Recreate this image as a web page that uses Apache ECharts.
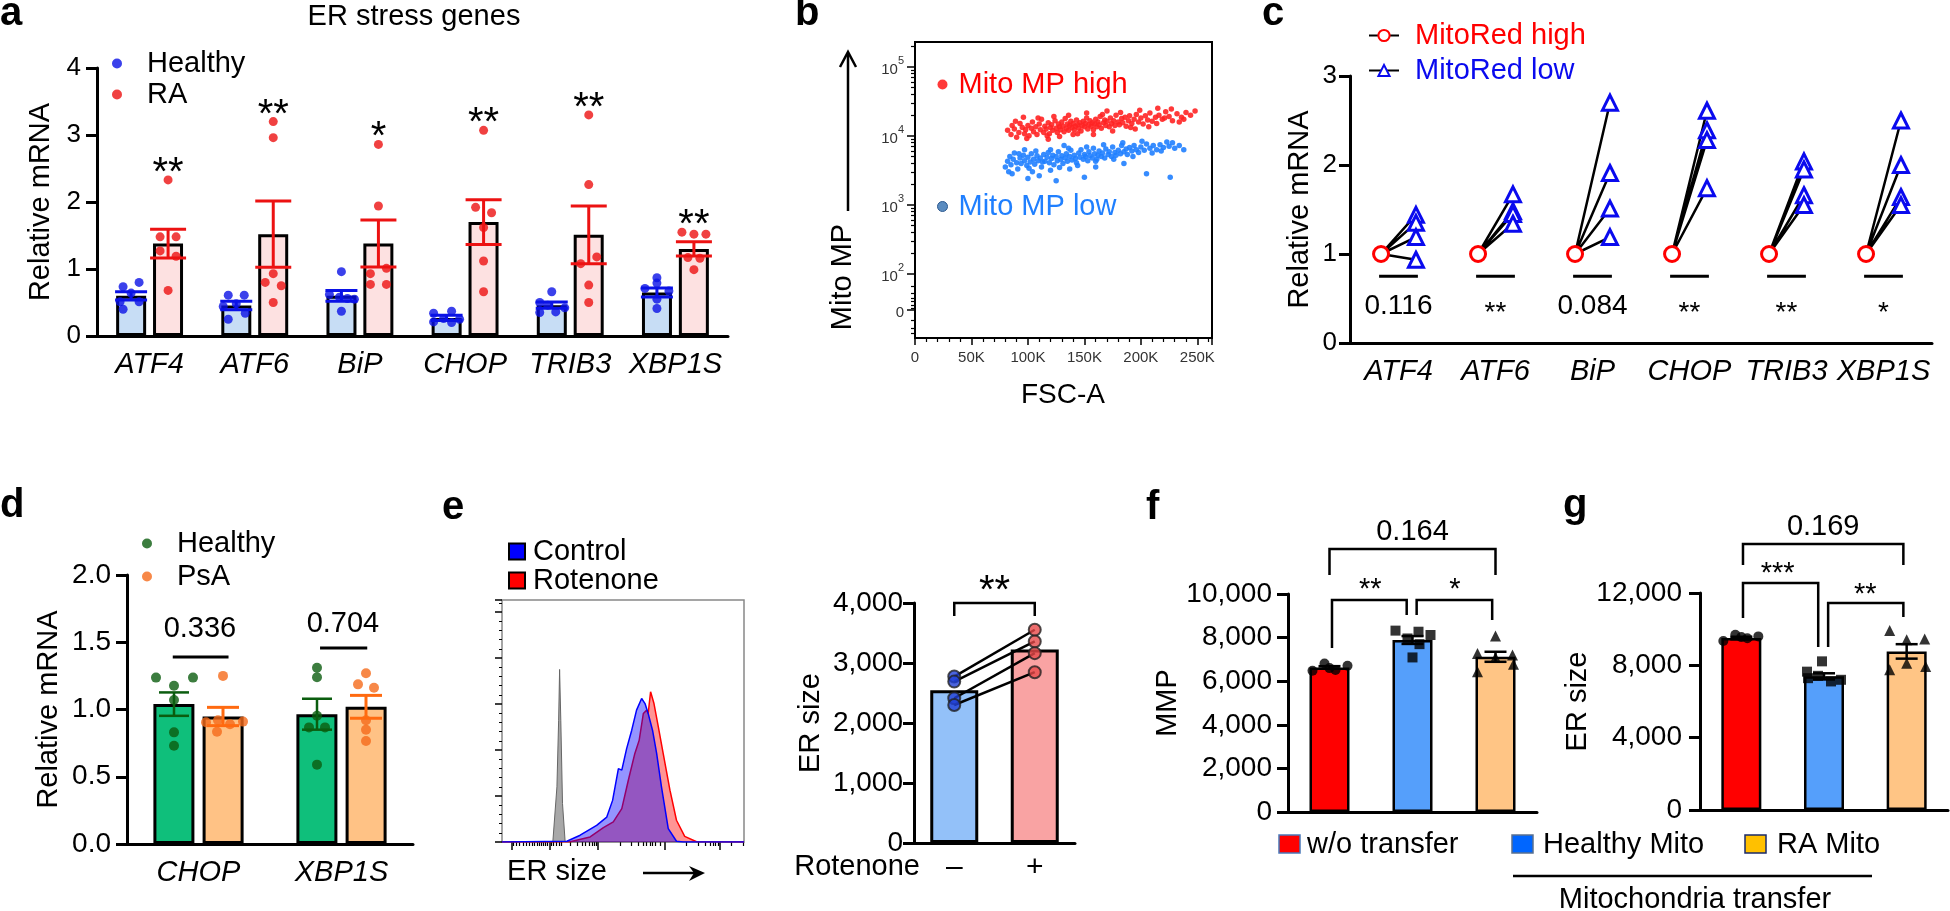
<!DOCTYPE html>
<html><head><meta charset="utf-8">
<script src="https://cdn.jsdelivr.net/npm/echarts@6/dist/echarts.min.js"></script>
<style>html,body{margin:0;padding:0;background:#fff}#main{width:1950px;height:911px}</style>
</head><body><div id="main"></div>
<script>
const FONT = "'Liberation Sans', Arial, Helvetica, sans-serif";

// ---------- Panel a : ER stress genes, Healthy vs RA ----------
const aGenes = ['ATF4','ATF6','BiP','CHOP','TRIB3','XBP1S'];
const aHealthyMean = [0.60,0.455,0.60,0.27,0.46,0.65];
const aHealthySem  = [0.062,0.065,0.08,0.04,0.047,0.067];
const aRAMean = [1.38,1.52,1.38,1.70,1.51,1.30];
const aRASem  = [0.215,0.495,0.35,0.335,0.43,0.105];
const aHealthyPts = [
 [0.735,0.80,0.64,0.51,0.51,0.40],
 [0.61,0.61,0.48,0.44,0.34,0.25],
 [0.96,0.62,0.58,0.56,0.55,0.37],
 [0.34,0.37,0.26,0.21,0.20,0.25],
 [0.66,0.50,0.46,0.35,0.36,0.42],
 [0.87,0.79,0.71,0.67,0.55,0.41]];
const aHealthyJit = [[-8,8,0,-11,8,-8],[-8,8,0,-13,9,-8],[0,-12,-2,6,13,0],[-13,5,-3,-13,5,13],[0,-12,-4,-12,4,13],[0,0,-12,12,0,0]];
const aRAPts = [
 [2.33,1.48,1.48,1.27,1.19,0.68],
 [3.20,2.96,0.93,0.80,0.75,0.50],
 [2.86,1.94,0.93,1.01,0.77,0.77],
 [3.07,1.92,1.84,1.62,1.12,0.66],
 [3.30,2.26,1.18,1.08,0.76,0.50],
 [1.55,1.52,1.52,1.17,1.16,0.99]];
const aRAJit = [[0,-8,8,-8,8,0],[0,0,0,-8,8,0],[0,0,-8,8,-8,8],[0,-8,8,0,0,0],[0,0,8,-8,0,0],[-12,0,12,-6,6,0]];
const aSig = ['**','**','*','**','**','**'];

// ---------- Panel b : flow cytometry (FSC-A in K, Mito MP as log10) ----------
const bHigh = [[82,4.08],[85,4.02],[86,4.15],[88,4.10],[90,3.98],[92,4.05],[93,4.18],[95,4.12],[97,4.03],[98,4.09],
[100,4.15],[101,4.00],[103,4.11],[104,4.20],[105,4.06],[107,4.13],[108,4.02],[110,4.17],[111,4.09],[112,4.24],
[114,4.05],[115,4.14],[116,4.10],[118,4.19],[119,4.03],[120,4.12],[121,4.16],[122,4.08],[124,4.22],[125,4.11],
[126,4.05],[127,4.17],[128,4.13],[129,4.09],[130,4.20],[131,4.14],[132,4.06],[133,4.25],[134,4.11],[135,4.17],
[136,4.08],[137,4.15],[138,4.21],[139,4.12],[140,4.18],[141,4.09],[142,4.14],[143,4.23],[144,4.16],[145,4.11],
[146,4.19],[147,4.07],[148,4.15],[149,4.21],[150,4.13],[151,4.18],[152,4.26],[153,4.10],[154,4.16],[155,4.22],
[156,4.14],[157,4.19],[158,4.09],[159,4.17],[160,4.24],[161,4.13],[162,4.20],[163,4.16],[164,4.28],[165,4.11],
[167,4.19],[168,4.23],[169,4.15],[170,4.21],[172,4.13],[173,4.26],[174,4.18],[176,4.22],[177,4.15],[178,4.30],
[180,4.20],[181,4.16],[183,4.25],[184,4.19],[186,4.27],[187,4.14],[189,4.22],[190,4.29],[192,4.18],[194,4.24],
[196,4.31],[198,4.20],[200,4.26],[202,4.17],[204,4.29],[206,4.23],[208,4.33],[210,4.21],[213,4.27],[216,4.30],
[219,4.24],[222,4.35],[225,4.28],[228,4.22],[232,4.32],[236,4.27],[240,4.34],[96,4.27],[118,3.95],[140,4.02],
[170,4.36],[195,4.10],[215,4.40],[234,4.20],[89,4.21],[99,3.96],[109,4.26],[117,4.00],[123,4.28],[128,3.99],
[136,4.30],[144,4.03],[152,4.33],[158,4.02],[166,4.31],[175,4.07],[182,4.34],[191,4.12],[199,4.37],[207,4.13],
[214,4.18],[221,4.26],[227,4.39],[238,4.24],[244,4.30],[248,4.36]];
const bLow = [[80,3.55],[82,3.63],[84,3.70],[85,3.58],[87,3.66],[88,3.75],[90,3.61],[91,3.52],[93,3.68],[94,3.60],
[96,3.72],[97,3.64],[99,3.57],[100,3.69],[102,3.62],[103,3.74],[105,3.66],[106,3.59],[108,3.71],[109,3.64],
[111,3.68],[112,3.55],[114,3.73],[115,3.63],[117,3.69],[118,3.76],[119,3.61],[121,3.67],[122,3.72],[123,3.58],
[125,3.70],[126,3.64],[127,3.77],[129,3.66],[130,3.71],[131,3.60],[133,3.68],[134,3.74],[135,3.63],[137,3.70],
[138,3.79],[139,3.65],[141,3.72],[142,3.67],[143,3.61],[145,3.75],[146,3.69],[147,3.80],[149,3.66],[150,3.73],
[151,3.70],[153,3.64],[154,3.77],[155,3.71],[157,3.68],[158,3.82],[159,3.74],[161,3.66],[162,3.72],[163,3.78],
[165,3.70],[166,3.75],[168,3.68],[169,3.81],[171,3.73],[172,3.77],[174,3.70],[175,3.84],[177,3.76],[178,3.72],
[180,3.79],[182,3.74],[183,3.86],[185,3.77],[187,3.81],[188,3.73],[190,3.83],[192,3.78],[194,3.86],[196,3.80],
[198,3.76],[200,3.84],[203,3.79],[205,3.88],[208,3.82],[211,3.86],[214,3.80],[217,3.87],[220,3.83],[225,3.85],
[230,3.82],[228,3.90],[86,3.45],[104,3.48],[120,3.50],[137,3.52],[160,3.55],[110,3.42],[97,3.80],[132,3.86],
[185,3.60],[205,3.45],[226,3.40],[150,3.40],[125,3.35],[100,3.38],[83,3.48],[92,3.74],[101,3.53],[107,3.78],
[113,3.62],[120,3.80],[128,3.54],[136,3.82],[144,3.57],[152,3.84],[160,3.63],[167,3.87],[176,3.66],[184,3.90],
[193,3.70],[201,3.92],[210,3.75],[218,3.78],[223,3.91],[234,3.86],[238,3.80]];
const bYLabelVals = [1.48,2,3,4,5];

// ---------- Panel c : paired MitoRed high vs low ----------
const cGenes = ['ATF4','ATF6','BiP','CHOP','TRIB3','XBP1S'];
const cHigh = [1,1,1,1,1,1];
const cLow = [[1.44,1.35,1.19,0.935],[1.67,1.48,1.45,1.34],[2.70,1.91,1.51,1.19],[2.61,2.39,2.28,1.74],[2.04,1.95,1.66,1.55],[2.50,2.00,1.64,1.55]];
const cP = ['0.116','**','0.084','**','**','*'];

// ---------- Panel d : Healthy vs PsA ----------
const dGenes = ['CHOP','XBP1S'];
const dHealthyMean = [1.04,0.965];
const dHealthySem = [0.087,0.115];
const dPsAMean = [0.948,1.02];
const dPsASem = [0.068,0.085];
const dHealthyPts = [[1.237,1.237,1.177,1.07,0.83,0.73],[1.31,1.24,0.954,0.867,0.867,0.59]];
const dHealthyJit = [[-18,19,0,0,0,0],[0,0,0,-8,8,0]];
const dPsAPts = [[1.25,0.905,0.92,0.89,0.91,0.835],[1.27,1.187,1.162,0.92,0.85,0.766]];
const dPsAJit = [[0,-17,-5,7,20,-6],[0,-8,8,0,0,0]];
const dP = ['0.336','0.704'];

// ---------- Panel e : histogram (0-100 frame units) + paired bar ----------
const eGrey = [[0,0],[21,0],[22.7,22.8],[23.4,50.3],[23.8,71.3],[24.3,50.3],[25,15.9],[26.1,0],[100,0]];
const eControl = [[0,0],[26.8,0.3],[32.3,2.8],[39.1,6.9],[43.3,10.3],[45.7,17.2],[48.1,30.3],[49.5,29.7],[51.5,38.6],[53.6,46.2],[55.6,54.5],[57.7,59.3],[59.1,57.2],[60.4,53.1],[62.2,46.2],[63.9,36.6],[65.9,22.8],[68.7,5.5],[72.1,0.3],[74.9,0],[100,0]];
const eRotenone = [[0,0],[28.2,0.1],[36.4,2.1],[41.9,5.9],[46,8.3],[49.5,13.8],[52.2,25.5],[54.9,36.6],[56.7,42.1],[58.4,53.1],[59.8,54.5],[60.4,53.1],[61.4,62.1],[62.8,57.2],[64.6,47.6],[66.6,36.6],[69.4,21.4],[72.1,9.0],[75.5,2.3],[80.4,0.1],[100,0]];
const eXMajor = [4.1,19.6,39.6,67.3,90.0];
const eXMinor = [4.5,5.9,7.3,8.7,10.0,11.3,12.4,13.5,14.4,15.4,16.3,17.2,18.0,18.8,20.2,21.3,22.4,23.5,24.3,28.2,30.9,33.0,34.6,36.0,37.1,38.0,38.9,48.8,53.6,56.3,58.4,59.8,61.1,62.2,63.2,65.2,76.2,81.0,83.8,85.9,87.2,88.3,89.3,94.8,99.6];
const eBarCats = ['–','+'];
const eBarMean = [2545,3225];
const eCtrlPts = [2774,2690,2412,2300];
const eRotPts = [3554,3359,3164,2847];

// ---------- Panel f : MMP ----------
const fgGroups = ['w/o transfer','Healthy Mito','RA Mito'];
const fMean = [6630,7890,7120];
const fSem = [60,180,230];
const fPts = [[6480,6810,6600,6510,6710],[8320,7960,8270,8120,7700,7090],[8070,7270,7200,6430,6780,7090]];
const fJit = [[-17,-5,0,6,18],[-17,-5,6,18,7,0],[0,-18,17,-18,18,0]];

// ---------- Panel g : ER size ----------
const gMean = [9510,7390,8770];
const gSem = [70,170,400];
const gPts = [[9350,9690,9560,9500,9600],[8220,7650,7420,7290,7110,7200],[9930,9415,9450,8120,7750,7940]];
const gJit = [[-18,-6,0,6,17],[-2,-17,-6,-16,7,17],[-17,0,18,0,-17,19]];

// ================= helpers =================
function errRender(color, width, cap){
  return function(p, api){
    const x = api.value(0), m = api.value(1), s = api.value(2);
    const t = api.coord([x, m + s]), b = api.coord([x, m - s]);
    const st = {stroke:color, lineWidth:width};
    return {type:'group', children:[
      {type:'line', shape:{x1:t[0],y1:t[1],x2:b[0],y2:b[1]}, style:st},
      {type:'line', shape:{x1:t[0]-cap,y1:t[1],x2:t[0]+cap,y2:t[1]}, style:st},
      {type:'line', shape:{x1:b[0]-cap,y1:b[1],x2:b[0]+cap,y2:b[1]}, style:st}]};
  };
}
function segRender(color, width){
  return function(p, api){
    const a = api.coord([api.value(0), api.value(1)]), b = api.coord([api.value(2), api.value(3)]);
    return {type:'line', shape:{x1:a[0],y1:a[1],x2:b[0],y2:b[1]}, style:{stroke:color, lineWidth:width}};
  };
}
function bracketRender(width){
  return function(p, api){
    const x1 = api.value(0), x2 = api.value(1), y = api.value(2), y1 = api.value(3), y2 = api.value(4);
    const pts = [api.coord([x1,y1]), api.coord([x1,y]), api.coord([x2,y]), api.coord([x2,y2])];
    return {type:'polyline', shape:{points:pts}, style:{stroke:'#000', lineWidth:width, fill:null}};
  };
}
function textRender(texts, size){
  return function(p, api){
    const c = api.coord([api.value(0), api.value(1)]);
    const t = texts[p.dataIndex];
    const dy = t.indexOf('*') >= 0 ? size * 0.25 : 0;
    return {type:'text', x:c[0], y:c[1] + dy, style:{text:t, fontSize:size, fontFamily:FONT, fill:'#000', align:'center', verticalAlign:'middle'}};
  };
}
function custom(xi, yi, data, renderItem, z){
  return {type:'custom', xAxisIndex:xi, yAxisIndex:yi, data, renderItem, z:z||5, silent:true};
}
function catX(grid, data, extra){
  return Object.assign({gridIndex:grid, type:'category', data,
    axisLine:{onZero:false, lineStyle:{color:'#000', width:3}},
    axisTick:{alignWithLabel:true, length:11, lineStyle:{color:'#000', width:3}},
    axisLabel:{interval:0, color:'#000', fontSize:29, fontStyle:'italic', fontFamily:FONT, margin:14},
    splitLine:{show:false}}, extra || {});
}
function hidX(grid, n){ return {gridIndex:grid, type:'value', min:-0.5, max:n-0.5, show:false}; }
function valY(grid, min, max, interval, fmt, size, margin, name, nameGap){
  return {gridIndex:grid, type:'value', min, max, interval, position:'left',
    axisLine:{show:true, onZero:false, lineStyle:{color:'#000', width:3}},
    axisTick:{show:true, length:11, lineStyle:{color:'#000', width:3}},
    axisLabel:{color:'#000', fontSize:size, fontFamily:FONT, margin, formatter:fmt},
    splitLine:{show:false},
    name, nameLocation:'middle', nameGap, nameTextStyle:{fontSize:29, color:'#000', fontFamily:FONT}};
}
const comma = v => v.toLocaleString('en-US');

// ================= layout =================
const grids = [
  {left:97, top:68, width:631, height:268},          // 0 a
  {left:915, top:42, width:297, height:296, show:true, borderColor:'#000', borderWidth:2, backgroundColor:'transparent'}, // 1 b
  {left:1350, top:76, width:582, height:267},        // 2 c
  {left:127, top:575, width:286, height:269},        // 3 d
  {left:502, top:600, width:242, height:242, show:true, borderColor:'#888', borderWidth:1.5, backgroundColor:'transparent'}, // 4 e hist
  {left:914, top:603, width:161, height:240},        // 5 e bar
  {left:1288, top:594, width:249, height:218},       // 6 f
  {left:1700, top:593, width:248, height:217}        // 7 g
];
const aCatPx = 631/6, dCatPx = 286/2, fCatPx = 249/3, gCatPx = 248/3;
const aOff = 18.5/aCatPx, dOff = 24.5/dCatPx, cOff = 0.18;

const bMinor = [];
[2,3,4].forEach(k => [2,3,4,5,6,7,8,9].forEach(m => bMinor.push(k + Math.log10(m))));
bMinor.push(5 + Math.log10(2));
[1.14,1.21,1.33,1.50,1.54,1.60,1.65,1.72,1.816].forEach(v => bMinor.push(v));

const xAxis = [
  catX(0, aGenes),                                  // 0
  hidX(0, 6),                                       // 1
  {gridIndex:1, type:'value', min:0, max:263, interval:50,   // 2
    axisLine:{onZero:false, lineStyle:{color:'#000', width:2}},
    axisTick:{length:7, lineStyle:{color:'#000', width:1.5}},
    minorTick:{show:true, splitNumber:5, length:4, lineStyle:{color:'#000', width:1.2}},
    axisLabel:{fontSize:15, color:'#333', margin:12, showMaxLabel:false, formatter: v => v === 0 ? '0' : (v % 50 === 0 ? v + 'K' : '')},
    splitLine:{show:false}, minorSplitLine:{show:false}},
  catX(2, cGenes, {axisTick:{alignWithLabel:true, length:9, lineStyle:{color:'#000', width:3}}}), // 3
  hidX(2, 6),                                       // 4
  catX(3, dGenes),                                  // 5
  hidX(3, 2),                                       // 6
  {gridIndex:4, type:'value', min:0, max:100, position:'bottom', axisLine:{show:false, onZero:false},
    axisTick:{show:true, customValues:eXMajor, length:8, lineStyle:{color:'#000', width:1.5}},
    axisLabel:{show:false}, splitLine:{show:false}},  // 7
  {gridIndex:4, type:'value', min:0, max:100, position:'bottom', axisLine:{show:false, onZero:false},
    axisTick:{show:true, customValues:eXMinor, length:4, lineStyle:{color:'#000', width:1.2}},
    axisLabel:{show:false}, splitLine:{show:false}},  // 8
  catX(5, eBarCats, {axisTick:{alignWithLabel:true, length:10, lineStyle:{color:'#000', width:3}},
    axisLabel:{interval:0, color:'#000', fontSize:30, fontFamily:FONT, margin:10}}), // 9
  hidX(5, 2),                                       // 10
  catX(6, fgGroups, {axisLabel:{show:false}}),      // 11
  hidX(6, 3),                                       // 12
  catX(7, fgGroups, {axisLabel:{show:false}}),      // 13
  hidX(7, 3)                                        // 14
];

const yAxis = [
  valY(0, 0, 4, 1, null, 26, 16, 'Relative mRNA', 42),                       // 0
  {gridIndex:1, type:'value', min:1.07, max:5.36, position:'left',             // 1
    axisLine:{show:true, onZero:false, lineStyle:{color:'#000', width:2}},
    axisTick:{show:true, customValues:bYLabelVals, length:8, lineStyle:{color:'#000', width:1.5}},
    axisLabel:{show:true, customValues:bYLabelVals, margin:11, color:'#333',
      formatter: v => Math.abs(v - 1.48) < 0.01 ? '{n|0}' : '{n|10}{s|' + Math.round(v) + '}',
      rich:{n:{fontSize:15, color:'#333', fontFamily:FONT, lineHeight:22, verticalAlign:'bottom'},
            s:{fontSize:11, color:'#333', fontFamily:FONT, lineHeight:22, verticalAlign:'top'}}},
    splitLine:{show:false}},
  {gridIndex:1, type:'value', min:1.07, max:5.36, position:'left', axisLine:{show:false, onZero:false}, // 2
    axisTick:{show:true, customValues:bMinor, length:4, lineStyle:{color:'#000', width:1.2}},
    axisLabel:{show:false}, splitLine:{show:false}},
  valY(2, 0, 3, 1, null, 26, 13, 'Relative mRNA', 36),                       // 3
  valY(3, 0, 2, 0.5, v => v.toFixed(1), 28, 16, 'Relative mRNA', 64),        // 4
  {gridIndex:4, type:'value', min:0, max:100, interval:19, position:'left', axisLine:{show:false, onZero:false}, // 5
    axisTick:{show:true, length:7, lineStyle:{color:'#000', width:1.5}},
    minorTick:{show:true, splitNumber:5, length:3, lineStyle:{color:'#000', width:1}},
    axisLabel:{show:false}, splitLine:{show:false}, minorSplitLine:{show:false}},
  valY(5, 0, 4000, 1000, comma, 28, 11, 'ER size', 89),                      // 6
  valY(6, 0, 10000, 2000, comma, 28, 16, 'MMP', 106),                        // 7
  valY(7, 0, 12000, 4000, comma, 28, 18, 'ER size', 106)                     // 8
];

// ================= series =================
const series = [];
// ---- a
series.push({type:'bar', name:'Healthy bar', xAxisIndex:0, yAxisIndex:0, data:aHealthyMean, barWidth:30, barGap:'23%',
  itemStyle:{color:'#c7ddf5', borderColor:'#000', borderWidth:3}, z:2, silent:true});
series.push({type:'bar', name:'RA bar', xAxisIndex:0, yAxisIndex:0, data:aRAMean, barWidth:30, barGap:'23%',
  itemStyle:{color:'#fde1e1', borderColor:'#000', borderWidth:3}, z:2, silent:true});
series.push({type:'scatter', name:'Healthy', xAxisIndex:1, yAxisIndex:0, symbolSize:9, itemStyle:{color:'#0a12e6'}, z:3,
  data: aHealthyPts.flatMap((arr,i) => arr.map((v,k) => [i - aOff + aHealthyJit[i][k]/aCatPx, v]))});
series.push({type:'scatter', name:'RA', xAxisIndex:1, yAxisIndex:0, symbolSize:9, itemStyle:{color:'#ec1212'}, z:3,
  data: aRAPts.flatMap((arr,i) => arr.map((v,k) => [i + aOff + aRAJit[i][k]/aCatPx, v]))});
series.push(custom(1, 0, aHealthyMean.map((m,i) => [i - aOff, m, aHealthySem[i]]), errRender('#0a12e6', 3, 16)));
series.push(custom(1, 0, aRAMean.map((m,i) => [i + aOff, m, aRASem[i]]), errRender('#ec1212', 3, 18)));
series.push(custom(1, 0, aRAPts.map((arr,i) => [i + aOff, Math.max(...arr) + 0.24]), textRender(aSig, 40)));

// ---- b
series.push({type:'scatter', name:'Mito MP high', xAxisIndex:2, yAxisIndex:1, symbolSize:5.5, itemStyle:{color:'#ff2424', opacity:0.9}, data:bHigh, z:3});
series.push({type:'scatter', name:'Mito MP low', xAxisIndex:2, yAxisIndex:1, symbolSize:5.5, itemStyle:{color:'#2080ff', opacity:0.9}, data:bLow, z:3});

// ---- c
const cLowData = [];
cLow.forEach((arr,i) => arr.forEach(v => {
  cLowData.push({value:[i - cOff, cHigh[i]], symbol:'none'});
  cLowData.push([i + cOff, v]);
  cLowData.push(['-','-']);
}));
const cHighData = [];
cHigh.forEach((v,i) => { cHighData.push([i - cOff, v]); cHighData.push(['-','-']); });
series.push({type:'line', name:'MitoRed low', xAxisIndex:4, yAxisIndex:3, data:cLowData, connectNulls:false,
  symbol:'triangle', symbolSize:15, showAllSymbol:true, lineStyle:{color:'#000', width:2.5},
  itemStyle:{color:'#fff', borderColor:'#0a0aee', borderWidth:3}, z:3});
series.push({type:'line', name:'MitoRed high', xAxisIndex:4, yAxisIndex:3, data:cHighData, connectNulls:false,
  symbol:'circle', symbolSize:15, showAllSymbol:true, lineStyle:{color:'#000', width:2.5},
  itemStyle:{color:'#fff', borderColor:'#ff0000', borderWidth:3}, z:4});
series.push(custom(4, 3, cGenes.map((g,i) => [i - 0.2, 0.75, i + 0.2, 0.75]), segRender('#000', 3)));
series.push(custom(4, 3, cGenes.map((g,i) => [i, 0.41]), textRender(cP, 28)));

// ---- d
series.push({type:'bar', name:'d-Healthy bar', xAxisIndex:5, yAxisIndex:4, data:dHealthyMean, barWidth:41, barGap:'20%',
  itemStyle:{color:'#0fbf7b', borderColor:'#000', borderWidth:3}, z:2, silent:true});
series.push({type:'bar', name:'d-PsA bar', xAxisIndex:5, yAxisIndex:4, data:dPsAMean, barWidth:41, barGap:'20%',
  itemStyle:{color:'#ffc285', borderColor:'#000', borderWidth:3}, z:2, silent:true});
series.push({type:'scatter', name:'d-Healthy', xAxisIndex:6, yAxisIndex:4, symbolSize:10, itemStyle:{color:'#0b5d0f'}, z:3,
  data: dHealthyPts.flatMap((arr,i) => arr.map((v,k) => [i - dOff + dHealthyJit[i][k]/dCatPx, v]))});
series.push({type:'scatter', name:'d-PsA', xAxisIndex:6, yAxisIndex:4, symbolSize:10, itemStyle:{color:'#f56a1a'}, z:3,
  data: dPsAPts.flatMap((arr,i) => arr.map((v,k) => [i + dOff + dPsAJit[i][k]/dCatPx, v]))});
series.push(custom(6, 4, dHealthyMean.map((m,i) => [i - dOff, m, dHealthySem[i]]), errRender('#0b5d0f', 2.5, 15)));
series.push(custom(6, 4, dPsAMean.map((m,i) => [i + dOff, m, dPsASem[i]]), errRender('#ff6a10', 3, 16)));
series.push(custom(6, 4, [[-0.18, 1.39, 0.21, 1.39],[0.85, 1.457, 1.18, 1.457]], segRender('#000', 3)));
series.push(custom(6, 4, [[0.01, 1.60],[1.01, 1.636]], textRender(dP, 29)));

// ---- e histogram
series.push({type:'line', name:'Unstained', xAxisIndex:7, yAxisIndex:5, data:eGrey, symbol:'none',
  lineStyle:{color:'#666', width:1}, areaStyle:{color:'#a8a8a8', opacity:1}, z:2, silent:true});
series.push({type:'line', name:'Rotenone', xAxisIndex:7, yAxisIndex:5, data:eRotenone, symbol:'none',
  lineStyle:{color:'#ff0000', width:1.5}, areaStyle:{color:'rgba(255,0,0,0.42)', opacity:1}, itemStyle:{color:'#ff0000'}, z:3, silent:true});
series.push({type:'line', name:'Control', xAxisIndex:7, yAxisIndex:5, data:eControl, symbol:'none',
  lineStyle:{color:'#0000ff', width:1.5}, areaStyle:{color:'rgba(0,0,255,0.42)', opacity:1}, itemStyle:{color:'#0000ff'}, z:4, silent:true});

// ---- e bar
series.push({type:'bar', name:'e-bar', xAxisIndex:9, yAxisIndex:6, barWidth:48,
  data:[{value:eBarMean[0], itemStyle:{color:'#93c1f9'}}, {value:eBarMean[1], itemStyle:{color:'#f9a3a3'}}],
  itemStyle:{borderColor:'#000', borderWidth:3}, z:2, silent:true});
series.push(custom(10, 6, eCtrlPts.map((c,k) => [0, c, 1, eRotPts[k]]), segRender('#000', 2.5), 3));
series.push({type:'scatter', name:'e-ctrl', xAxisIndex:10, yAxisIndex:6, symbolSize:12, data:eCtrlPts.map(v => [0, v]),
  itemStyle:{color:'#1f3fd6', borderColor:'#222', borderWidth:2}, z:4});
series.push({type:'scatter', name:'e-rot', xAxisIndex:10, yAxisIndex:6, symbolSize:12, data:eRotPts.map(v => [1, v]),
  itemStyle:{color:'#e84a4a', borderColor:'#222', borderWidth:2}, z:4});
series.push(custom(10, 6, [[0, 1, 4000, 3783, 3783]], bracketRender(2.5)));
series.push(custom(10, 6, [[0.5, 4350]], textRender(['**'], 40)));

// ---- f, g
const fgColors = ['#ff0000','#559ffb','#ffc585'];
const fgSymbols = ['circle','rect','triangle'];
function fgPanel(xc, xh, yi, mean, sem, pts, jit, catPx){
  series.push({type:'bar', name:'fg-bar-' + yi, xAxisIndex:xc, yAxisIndex:yi, barWidth:40,
    data: mean.map((m,i) => ({value:m, itemStyle:{color:fgColors[i]}})),
    itemStyle:{borderColor:'#000', borderWidth:2.5}, z:2, silent:true});
  pts.forEach((arr,i) => series.push({type:'scatter', name:'fg-pts-' + yi + '-' + i, xAxisIndex:xh, yAxisIndex:yi,
    symbol:fgSymbols[i], symbolSize: i === 2 ? 11 : 10, itemStyle:{color:'#000'}, z:3,
    data: arr.map((v,k) => [i + jit[i][k]/catPx, v])}));
  series.push(custom(xh, yi, mean.map((m,i) => [i, m, sem[i]]), errRender('#000', 2.5, 11)));
}
fgPanel(11, 12, 7, fMean, fSem, fPts, fJit, fCatPx);
fgPanel(13, 14, 8, gMean, gSem, gPts, gJit, gCatPx);
series.push(custom(12, 7, [[0, 2, 12064, 10872, 10872],[0.03, 0.93, 9725, 7523, 9037],[1.05, 1.96, 9725, 9037, 8807]], bracketRender(2.5)));
series.push(custom(12, 7, [[1, 12844],[0.49, 10505],[1.51, 10505]], textRender(['0.164','**','*'], 29)));
series.push(custom(14, 8, [[0.02, 1.96, 14710, 13548, 13548],[0.02, 0.93, 12553, 10618, 9014],[1.05, 1.96, 11447, 9014, 10673]], bracketRender(2.5)));
series.push(custom(14, 8, [[0.99, 15650],[0.44, 13438],[1.50, 12277]], textRender(['0.169','***','**'], 29)));

// ================= legends =================
const lt = (size, pad) => ({fontSize:size, fontFamily:FONT, color:'#000', lineHeight:size, padding:[0,0,0,pad]});
const legend = [
  {orient:'vertical', left:107, top:44, itemWidth:10, itemHeight:10, itemGap:2, icon:'circle',
   data:['Healthy','RA'], textStyle:lt(29, 20), selectedMode:false},
  {orient:'vertical', left:932, top:65, itemWidth:10, itemHeight:10, itemGap:93, icon:'circle',
   data:[{name:'Mito MP high', textStyle:{color:'#ff0000'}},
         {name:'Mito MP low', textStyle:{color:'#1f7fff'}, itemStyle:{color:'#5b8cc0', borderColor:'#2d5a90', borderWidth:1, opacity:1}}],
   textStyle:lt(29, 6), selectedMode:false},
  {orient:'vertical', left:1363, top:16, itemWidth:30, itemHeight:14, itemGap:6,
   data:[{name:'MitoRed high', textStyle:{color:'#ff0000'}}, {name:'MitoRed low', textStyle:{color:'#0a0aee'}}],
   textStyle:lt(29, 11), selectedMode:false},
  {orient:'vertical', left:137, top:524, itemWidth:10, itemHeight:10, itemGap:4, icon:'circle',
   data:['d-Healthy','d-PsA'], formatter: n => n.replace('d-',''), textStyle:lt(29, 20), selectedMode:false},
  {orient:'vertical', left:503, top:532, itemWidth:16, itemHeight:16, itemGap:0, icon:'rect',
   data:[{name:'Control', itemStyle:{color:'#0000ff', borderColor:'#000', borderWidth:2}},
         {name:'Rotenone', itemStyle:{color:'#ff0000', borderColor:'#000', borderWidth:2}}],
   textStyle:lt(29, 3), selectedMode:false}
];

// ================= graphic (panel letters, titles, arrows) =================
const T = (text, x, y, size, opts) => Object.assign({type:'text', x, y, silent:true,
  style:Object.assign({text, fontSize:size, fontFamily:FONT, fill:'#000', align:'left', verticalAlign:'middle'}, (opts && opts.style) || {})},
  opts && opts.rotation ? {rotation:opts.rotation} : {});
const B = (ch, x, y) => T(ch, x, y, 40, {style:{fontWeight:'bold'}});
const graphic = [
  B('a', 0, 14), B('b', 795, 14), B('c', 1262, 14), B('d', 0, 506), B('e', 442, 508), B('f', 1146, 508), B('g', 1563, 506),
  T('ER stress genes', 414, 17, 29, {style:{align:'center'}}),
  T('FSC-A', 1063, 395, 28, {style:{align:'center'}}),
  T('Mito MP', 843, 277, 29, {style:{align:'center'}, rotation:Math.PI/2}),
  {type:'line', silent:true, shape:{x1:848, y1:211, x2:848, y2:54}, style:{stroke:'#000', lineWidth:2.5}},
  {type:'polyline', silent:true, shape:{points:[[840,67],[848,52],[856,67]]}, style:{stroke:'#000', lineWidth:2.5, fill:null}},
  T('ER size', 557, 872, 29, {style:{align:'center'}}),
  {type:'line', silent:true, shape:{x1:643, y1:873, x2:700, y2:873}, style:{stroke:'#000', lineWidth:2.5}},
  {type:'polygon', silent:true, shape:{points:[[689,866],[705,873],[689,881],[694,873]]}, style:{fill:'#000'}},
  T('Rotenone', 920, 867, 29, {style:{align:'right'}}),
  {type:'rect', silent:true, shape:{x:1279, y:835, width:21, height:18}, style:{fill:'#ff0000', stroke:'#4a78b8', lineWidth:1.5}},
  T('w/o transfer', 1307, 845, 29),
  {type:'rect', silent:true, shape:{x:1512, y:835, width:21, height:18}, style:{fill:'#0066ff', stroke:'#5a7090', lineWidth:1.5}},
  T('Healthy Mito', 1543, 845, 29),
  {type:'rect', silent:true, shape:{x:1745, y:835, width:21, height:18}, style:{fill:'#ffc000', stroke:'#1a2a6a', lineWidth:1.5}},
  T('RA Mito', 1777, 845, 29),
  {type:'line', silent:true, shape:{x1:1513, y1:876, x2:1872, y2:876}, style:{stroke:'#000', lineWidth:2.5}},
  T('Mitochondria transfer', 1695, 900, 29, {style:{align:'center'}})
];

const chart = echarts.init(document.getElementById('main'), null, {renderer:'canvas'});
chart.setOption({
  animation:false,
  backgroundColor:'#fff',
  textStyle:{fontFamily:FONT},
  grid:grids, xAxis, yAxis, legend,
  graphic:{elements:graphic},
  series
});
</script></body></html>
